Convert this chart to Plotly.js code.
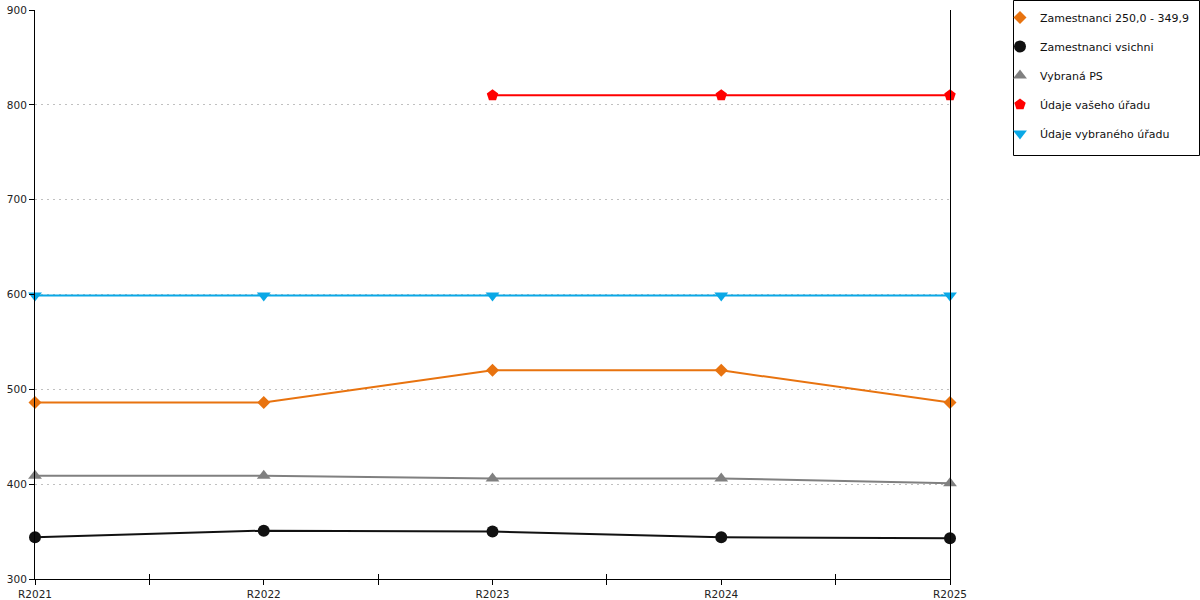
<!DOCTYPE html>
<html>
<head>
<meta charset="utf-8">
<script src="https://cdn.plot.ly/plotly-3.0.1.min.js"></script>
<style>
  html, body { margin: 0; padding: 0; background: #fff; }
  #chart { width: 1200px; height: 600px; }
</style>
</head>
<body>
<div id="chart"></div>
<script>
var years = ['R2021', 'R2022', 'R2023', 'R2024', 'R2025'];
var zam250 = [486, 486, 520, 520, 486];
var zamVsichni = [344, 351, 350, 344, 343];
var vybranaPS = [409, 409, 406, 406, 401];
var vasUrad = [null, null, 810, 810, 810];
var vybranyUrad = [599, 599, 599, 599, 599];

var xs = years.map(function(y, i) { return i; });
var midTicks = years.slice(1).map(function(y, i) { return i + 0.5; });

var allTicks = [];
var allText = [];
years.forEach(function(y, i) {
  allTicks.push(i);
  allText.push(y);
  if (i < years.length - 1) {
    allTicks.push(i + 0.5);
    allText.push('');
  }
});

var data = [];
var markerTraces = [];

// lines drawn first, without legend entries; markers carry the legend
function series(name, y, color, symbol, size, group) {
  data.push({
    x: xs, y: y, type: 'scatter', mode: 'lines',
    legendgroup: group, showlegend: false, hoverinfo: 'skip',
    line: { color: color, width: 2 }
  });
  markerTraces.push({
    x: xs, y: y, name: name, type: 'scatter', mode: 'markers',
    legendgroup: group, cliponaxis: false,
    marker: { color: color, symbol: symbol, size: size }
  });
}

series('Zamestnanci 250,0 - 349,9', zam250, '#E8730F', 'diamond', 10, 'a');
series('Zamestnanci vsichni', zamVsichni, '#111111', 'circle', 12, 'b');
series('Vybraná PS', vybranaPS, '#808080', 'triangle-up', 12, 'c');
series('Údaje vašeho úřadu', vasUrad, '#FF0000', 'pentagon', 12, 'd');
series('Údaje vybraného úřadu', vybranyUrad, '#0AA8E6', 'triangle-down', 12, 'e');

data = data.concat(markerTraces);

// inner half of the straddling midpoint ticks
data.push({
  x: [0], y: [null], xaxis: 'x2', showlegend: false, hoverinfo: 'skip', type: 'scatter'
});

// legend frame in paper units (plot area 35..950 px wide, 10..579 px high)
var plotL = 35, plotW = 915, plotB = 579, plotH = 569;
function px(v) { return (v - plotL) / plotW; }
function py(v) { return (plotB - v) / plotH; }

var layout = {
  width: 1200,
  height: 600,
  paper_bgcolor: '#fff',
  plot_bgcolor: '#fff',
  margin: { l: 35, r: 250, t: 10, b: 21, pad: 0 },
  font: { family: 'DejaVu Sans, sans-serif', size: 10.5, color: '#222' },
  showlegend: true,
  legend: {
    xref: 'container', yref: 'container',
    x: 1000 / 1200, y: 0.995, xanchor: 'left', yanchor: 'top',
    borderwidth: 0, bgcolor: 'rgba(0,0,0,0)',
    font: { family: 'DejaVu Sans, sans-serif', size: 11, color: '#111' },
    traceorder: 'grouped', tracegroupgap: 10,
    itemclick: false
  },
  shapes: [{
    type: 'rect', xref: 'paper', yref: 'paper', layer: 'below',
    x0: px(1013.5), x1: px(1199.5), y0: py(155.5), y1: py(0.5),
    line: { color: '#000', width: 1 }, fillcolor: 'rgba(0,0,0,0)'
  }],
  xaxis: {
    range: [0, 4],
    tickvals: allTicks,
    ticktext: allText,
    ticks: 'outside', ticklen: 5, tickcolor: '#000', tickwidth: 1,
    showline: true, linecolor: '#000', linewidth: 1,
    showgrid: false, zeroline: false,
    fixedrange: true
  },
  xaxis2: {
    overlaying: 'x', anchor: 'y', side: 'bottom',
    range: [0, 4],
    tickvals: midTicks,
    ticks: 'inside', ticklen: 5, tickcolor: '#000', tickwidth: 1,
    showticklabels: false, showline: false, showgrid: false, zeroline: false
  },
  yaxis: {
    range: [300, 900],
    dtick: 100,
    ticks: 'outside', ticklen: 5, tickcolor: '#000', tickwidth: 1,
    showline: true, linecolor: '#000', linewidth: 1, mirror: true,
    showgrid: true, gridcolor: '#c0c0c0', griddash: '2px,4px', gridwidth: 1,
    zeroline: false,
    fixedrange: true
  }
};

Plotly.newPlot('chart', data, layout, { displayModeBar: false, staticPlot: true });
</script>
</body>
</html>
